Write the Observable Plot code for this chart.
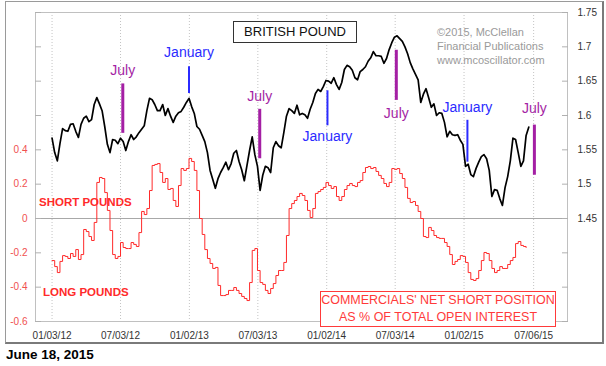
<!DOCTYPE html>
<html><head><meta charset="utf-8">
<script src="https://cdn.jsdelivr.net/npm/d3@7"></script>
<script src="https://cdn.jsdelivr.net/npm/@observablehq/plot@0.6"></script>
<style>
body{margin:0;background:#fff;font-family:Arial,"Liberation Sans",sans-serif;}
#wrap{position:relative;width:606px;height:366px;overflow:hidden;}
#chart{position:absolute;left:0;top:0;}
#outer{position:absolute;left:5px;top:1px;width:596px;height:340px;border:1px solid #9a9a9a;border-right:2px solid #7a7a7a;border-bottom:2px solid #7a7a7a;pointer-events:none;}
.ann{position:absolute;white-space:nowrap;}
#title{left:233px;top:21px;width:122px;height:20px;border:1px solid #333;font-size:13px;line-height:20px;text-align:center;color:#111;background:#fff;}
#copy{left:437px;top:25px;font-size:11px;line-height:14px;color:#9a9a9a;}
.side{font-weight:bold;font-size:11.5px;line-height:14px;color:#ff2a2a;}
#cot{left:320px;top:291px;width:234px;height:34px;border:1px solid #ff3a3a;background:#fff;color:#ff3a3a;font-size:12.5px;line-height:17px;text-align:center;}
#date{left:6px;top:347px;font-weight:bold;font-size:13.5px;line-height:16px;color:#000;}
</style></head>
<body>
<div id="wrap">
  <div id="chart"></div>
  <div id="outer"></div>
  <div class="ann" id="title">BRITISH POUND</div>
  <div class="ann" id="copy">©2015, McClellan<br>Financial Publications<br>www.mcoscillator.com</div>
  <div class="ann side" style="left:39px;top:195px;">SHORT POUNDS</div>
  <div class="ann side" style="left:43px;top:285px;">LONG POUNDS</div>
  <div class="ann" id="cot">COMMERCIALS' NET SHORT POSITION<br>AS % OF TOTAL OPEN INTEREST</div>
  <div class="ann" id="date">June 18, 2015</div>
</div>
<script>
// weekly series starting 2012-01-03
const weekStart = "2012-01-03";
const poundWeekly = [
 1.567,1.546,1.534,1.559,1.581,1.578,1.577,1.587,1.588,1.577,
 1.568,1.587,1.596,1.599,1.591,1.594,1.616,1.626,1.617,1.607,
 1.584,1.558,1.546,1.565,1.564,1.559,1.567,1.562,1.549,1.562,
 1.572,1.565,1.569,1.575,1.580,1.585,1.607,1.625,1.623,1.616,
 1.607,1.607,1.616,1.600,1.610,1.599,1.590,1.599,1.604,1.606,
 1.612,1.619,1.625,1.613,1.603,1.584,1.580,1.571,1.562,1.546,
 1.520,1.507,1.494,1.508,1.517,1.524,1.532,1.521,1.530,1.545,
 1.549,1.533,1.521,1.505,1.527,1.549,1.569,1.543,1.526,1.491,
 1.513,1.526,1.524,1.517,1.553,1.562,1.556,1.553,1.575,1.599,
 1.610,1.607,1.603,1.615,1.601,1.603,1.601,1.596,1.609,1.619,
 1.632,1.638,1.635,1.642,1.651,1.650,1.647,1.655,1.645,1.638,
 1.648,1.667,1.673,1.671,1.666,1.655,1.652,1.664,1.667,1.671,
 1.679,1.684,1.693,1.687,1.687,1.686,1.676,1.683,1.696,1.706,
 1.714,1.716,1.712,1.708,1.700,1.690,1.677,1.668,1.660,1.652,
 1.619,1.631,1.639,1.626,1.612,1.617,1.600,1.604,1.603,1.590,
 1.569,1.577,1.572,1.571,1.572,1.564,1.558,1.526,1.529,1.514,
 1.511,1.523,1.532,1.540,1.543,1.537,1.520,1.482,1.492,1.491,
 1.479,1.469,1.495,1.511,1.534,1.567,1.565,1.546,1.526,1.534,
 1.571,1.583];
const cotWeekly = [
 -0.245,-0.280,-0.315,-0.250,-0.216,-0.221,-0.233,-0.204,-0.221,-0.181,
 -0.239,-0.210,-0.064,-0.076,-0.105,-0.128,-0.023,0.210,0.239,0.233,
 0.151,0.047,-0.070,-0.210,-0.233,-0.221,-0.140,-0.169,-0.175,-0.175,
 -0.140,-0.151,-0.163,-0.082,0.041,0.023,0.058,0.163,0.309,0.315,
 0.320,0.268,0.210,0.233,0.169,0.175,0.105,0.070,0.192,0.291,
 0.280,0.291,0.350,0.332,0.280,0.163,0.000,-0.093,-0.181,-0.233,
 -0.262,-0.291,-0.285,-0.390,-0.449,-0.449,-0.443,-0.419,-0.419,-0.402,
 -0.419,-0.437,-0.454,-0.466,-0.478,-0.373,-0.186,-0.175,-0.303,-0.373,
 -0.384,-0.419,-0.437,-0.408,-0.379,-0.332,-0.303,-0.303,-0.256,-0.099,
 0.058,0.087,0.105,0.128,0.146,0.134,0.105,0.047,0.006,0.058,
 0.146,0.157,0.169,0.181,0.210,0.192,0.175,0.186,0.128,0.105,
 0.128,0.169,0.192,0.204,0.192,0.186,0.210,0.221,0.268,0.297,
 0.303,0.291,0.297,0.274,0.251,0.233,0.204,0.186,0.210,0.291,
 0.286,0.291,0.262,0.233,0.181,0.117,0.093,0.099,0.076,0.041,
 0.000,-0.105,-0.111,-0.052,-0.070,-0.099,-0.111,-0.116,-0.116,-0.140,
 -0.163,-0.210,-0.268,-0.250,-0.239,-0.216,-0.221,-0.256,-0.315,-0.355,
 -0.361,-0.350,-0.303,-0.245,-0.198,-0.204,-0.245,-0.291,-0.315,-0.303,
 -0.280,-0.291,-0.291,-0.268,-0.245,-0.227,-0.146,-0.134,-0.157,-0.163,
 -0.169];
const xTickDates = ["2012-01-03","2012-07-03","2013-01-02","2013-07-03","2014-01-02","2014-07-03","2015-01-02","2015-07-06"];
const rightTicks = [1.30,1.35,1.40,1.45,1.50,1.55,1.60,1.65,1.70,1.75];
const rightLabelTicks = [1.45,1.50,1.55,1.60,1.65,1.70,1.75];
const rightLabels = ["1.45","1.5","1.55","1.6","1.65","1.7","1.75"];
const leftLabelValues = [-0.6,-0.4,-0.2,0,0.2,0.4];
const leftLabels = ["-0.6","-0.4","-0.2","0","0.2","0.4"];
const markers = [
 {date:"2012-07-09", label:"July", lo:1.574, hi:1.646, ly:1.6655},
 {date:"2013-01-01", label:"January", lo:1.632, hi:1.671, ly:1.692},
 {date:"2013-07-08", label:"July", lo:1.537, hi:1.609, ly:1.628},
 {date:"2014-01-04", label:"January", lo:1.585, hi:1.636, ly:1.569},
 {date:"2014-07-06", label:"July", lo:1.622, hi:1.695, ly:1.603},
 {date:"2015-01-11", label:"January", lo:1.532, hi:1.593, ly:1.612},
 {date:"2015-07-08", label:"July", lo:1.513, hi:1.586, ly:1.610}
];

// dual axis: left (COT) value v sits at pound level 1.45 + 0.25*v
const toRight = v => 1.45 + 0.25 * v;
const day = 864e5, t0 = new Date(weekStart).getTime();
const pound = poundWeekly.map((v, i) => ({date: new Date(t0 + i * 7 * day), value: v}));
const cot = cotWeekly.map((v, i) => ({date: new Date(t0 + i * 7 * day), value: toRight(v)}));
const mk = markers.map(d => ({...d, date: new Date(d.date)}));
const xt = xTickDates.map(d => new Date(d));
const leftTicks = leftLabelValues.map(toRight);

const chart = Plot.plot({
  width: 606, height: 346,
  marginLeft: 35, marginRight: 39, marginTop: 12, marginBottom: 25,
  style: {background: "transparent", fontFamily: "Arial, 'Liberation Sans', sans-serif", fontSize: "10px", overflow: "visible"},
  x: {type: "utc", domain: [new Date("2011-11-20"), new Date("2015-10-04")]},
  y: {domain: [1.30, 1.75], label: null},
  marks: [
    Plot.ruleX(xt, {stroke: "#c4c4c4", strokeDasharray: "1,2"}),
    Plot.ruleY([1.45], {stroke: "#a8a8a8"}),
    Plot.frame({stroke: "#c0c0c0"}),
    Plot.axisY({anchor: "left", ticks: rightTicks, tickSize: 6, dx: 6, tickFormat: () => "", color: "#b0b0b0", label: null}),
    Plot.axisY({anchor: "right", ticks: rightTicks, tickSize: 6, dx: -6, tickFormat: () => "", color: "#b0b0b0", label: null}),
    Plot.axisY({anchor: "left", ticks: leftTicks, tickSize: 0, tickPadding: 8, tickFormat: (d, i) => leftLabels[i], color: "#f05050", label: null}),
    Plot.axisY({anchor: "right", ticks: rightLabelTicks, tickSize: 0, tickPadding: 10, tickFormat: (d, i) => rightLabels[i], color: "#333", label: null}),
    Plot.axisX({ticks: xt, tickSize: 0, tickPadding: 10, tickFormat: d3.utcFormat("%m/%d/%y"), color: "#333", label: null}),
    Plot.line(cot, {x: "date", y: "value", curve: "step-after", stroke: "#ff2a2a", strokeWidth: 1}),
    Plot.line(pound, {x: "date", y: "value", stroke: "#000", strokeWidth: 1.7}),
    Plot.ruleX(mk.filter(d => d.label === "July"), {x: "date", y1: "lo", y2: "hi", stroke: "#a41fa4", strokeWidth: 3}),
    Plot.ruleX(mk.filter(d => d.label === "January"), {x: "date", y1: "lo", y2: "hi", stroke: "#2b2bff", strokeWidth: 2}),
    Plot.text(mk.filter(d => d.label === "July"), {x: "date", y: "ly", text: "label", fill: "#a41fa4", fontSize: 14}),
    Plot.text(mk.filter(d => d.label === "January"), {x: "date", y: "ly", text: "label", fill: "#2b2bff", fontSize: 14})
  ]
});
document.getElementById("chart").appendChild(chart);
</script>
</body></html>
